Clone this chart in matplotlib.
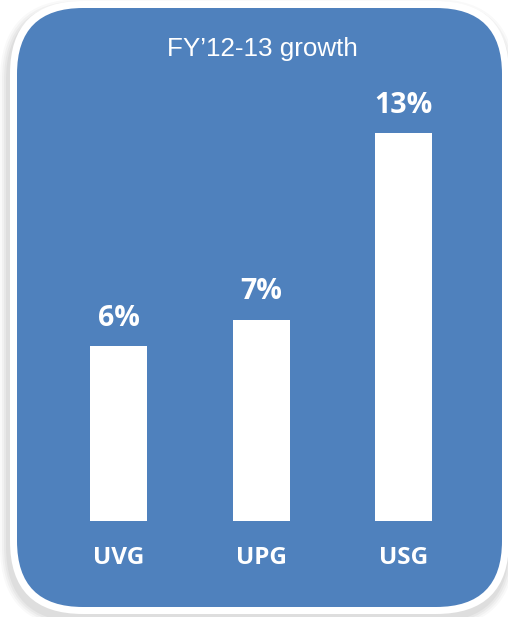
import matplotlib.pyplot as plt
from matplotlib.patches import FancyBboxPatch

# data
categories = ["UVG", "UPG", "USG"]
growth = [5.9, 6.8, 13.1]
title = "FY\u201912-13 growth"

BLUE = "#4F81BD"
W, H = 508, 617

fig = plt.figure(figsize=(W / 100, H / 100), dpi=100)
fig.patch.set_facecolor("white")

# background panel drawn in pixel coordinates
bg = fig.add_axes([0, 0, 1, 1])
bg.set_xlim(0, W)
bg.set_ylim(H, 0)
bg.axis("off")

x0, y0, x1, y1 = 17, 8, 502, 607
r = 66
b = 7  # white border width

# soft shadow, shifted down and a bit left
for i, a in enumerate([0.025, 0.03, 0.035, 0.04]):
    g = 8 - i * 2
    bg.add_patch(FancyBboxPatch((x0 - b - g - 2, y0 - b - g + 6), (x1 - x0) + 2 * b + 2 * g,
                                (y1 - y0) + 2 * b + 2 * g,
                                boxstyle=f"round,pad=0,rounding_size={r + b + g}",
                                fc="black", ec="none", alpha=a))
# white border
bg.add_patch(FancyBboxPatch((x0 - b, y0 - b), (x1 - x0) + 2 * b, (y1 - y0) + 2 * b,
                            boxstyle=f"round,pad=0,rounding_size={r + b}",
                            fc="white", ec="none"))
# blue panel
bg.add_patch(FancyBboxPatch((x0, y0), x1 - x0, y1 - y0,
                            boxstyle=f"round,pad=0,rounding_size={r}",
                            fc=BLUE, ec="none"))

fig.text(262 / W, 1 - 49 / H, title, color="white", fontsize=18.7,
         family="Liberation Sans", ha="center", va="center")

# bar axes
unit = 142.5
ax = fig.add_axes([(118.5 - unit / 2) / W, 96 / H, 3 * unit / W, 15 * 29.6 / H])
ax.set_xlim(-0.5, 2.5)
ax.set_ylim(0, 15)
ax.axis("off")

xs = range(len(categories))
bars = ax.bar(xs, growth, width=0.4, color="white", edgecolor="none")

for x, v in zip(xs, growth):
    ax.annotate(f"{v:.0f}%", (x, v), xytext=(0, 20), textcoords="offset points",
                ha="center", va="center", color="white", fontsize=20.5,
                fontweight="bold", family="Open Sans")
    fig.text((118.5 - unit / 2 + (x + 0.5) * unit) / W, 59 / H, categories[x],
             ha="center", va="center", color="white", fontsize=17.5,
             fontweight="bold", family="Open Sans")

fig.savefig("out.png", dpi=100)
